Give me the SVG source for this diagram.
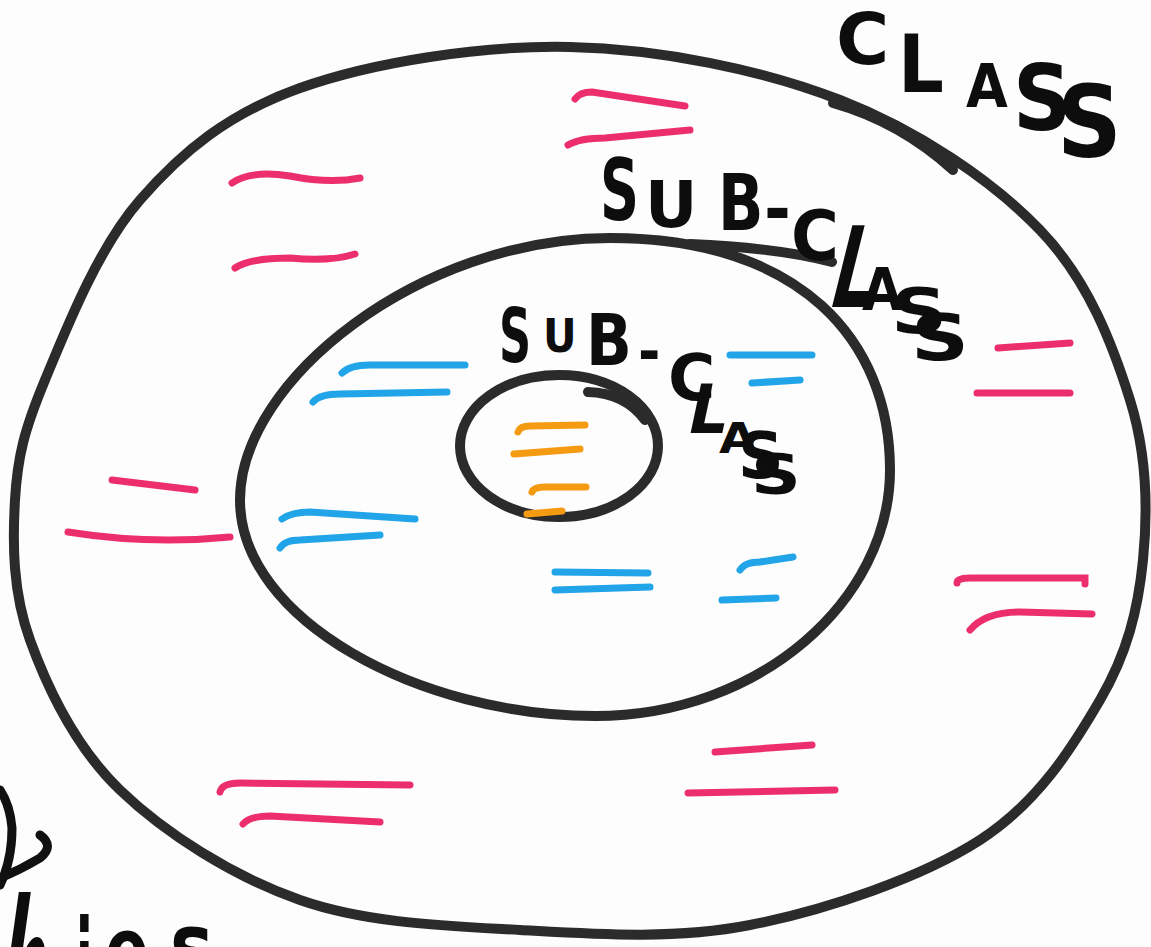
<svg xmlns="http://www.w3.org/2000/svg" width="1151" height="947" viewBox="0 0 1151 947">
<style>
.ring{fill:none;stroke:#2b2b2b;stroke-width:10;stroke-linecap:round;stroke-linejoin:round}
.ink{fill:none;stroke:#111;stroke-width:9;stroke-linecap:round;stroke-linejoin:round}
.pk{fill:none;stroke:#ec2f6c;stroke-width:7;stroke-linecap:round}
.bl{fill:none;stroke:#22a4e8;stroke-width:7;stroke-linecap:round}
.or{fill:none;stroke:#f59b12;stroke-width:7;stroke-linecap:round}
.hw{font-family:"DejaVu Sans Condensed","DejaVu Sans",sans-serif;font-weight:bold;fill:#0d0d0d}
</style>
<rect width="1151" height="947" fill="#fdfdfd"/>

<g id="class">
  <path class="ring" d="M570 47 C660 49 761.7 69.5 840 100 C918.3 130.5 991.7 180 1040 230 C1088.3 280 1112.8 345 1130 400 C1147.2 455 1148 510 1143 560 C1138 610 1127.2 653.3 1100 700 C1072.8 746.7 1038.3 802.5 980 840 C921.7 877.5 826.7 910 750 925 C673.3 940 595 934.2 520 930 C445 925.8 366.7 923.3 300 900 C233.3 876.7 165 833.3 120 790 C75 746.7 47.5 688.3 30 640 C12.5 591.7 12.5 543.3 15 500 C17.5 456.7 24.2 430 45 380 C65.8 330 97.5 248.7 140 200 C182.5 151.3 228.3 113.5 300 88 C371.7 62.5 480 45 570 47 Z"/>
  <path class="ring" d="M833 103 Q900 122 953 170"/>
  <g id="class-label" class="hw">
    <text transform="translate(836,64) scale(1.12,1)" font-size="72">C</text>
    <text transform="translate(898,92)" font-size="80">L</text>
    <text transform="translate(966,107)" font-size="60">A</text>
    <text transform="translate(1013,130)" font-size="90">S</text>
    <text transform="translate(1057,157)" font-size="100">S</text>
  </g>
  <g id="class-items">
    <path class="pk" d="M575 99 Q580 92 592 92 L685 106"/>
    <path class="pk" d="M568 145 Q580 138 605 138 L690 130"/>
    <path class="pk" d="M232 183 Q250 170 290 176 Q330 184 360 178"/>
    <path class="pk" d="M235 268 Q250 258 290 258 Q330 262 355 254"/>
    <path class="pk" d="M112 480 L195 490"/>
    <path class="pk" d="M68 532 Q150 545 230 537"/>
    <path class="pk" d="M998 348 L1070 343"/>
    <path class="pk" d="M977 393 L1070 393"/>
    <path class="pk" d="M957 583 Q957 578 970 578 L1085 578 L1085 584"/>
    <path class="pk" d="M970 630 Q985 612 1020 612 L1092 614"/>
    <path class="pk" d="M220 792 Q222 783 240 783 L410 785"/>
    <path class="pk" d="M243 824 Q250 816 270 816 L380 822"/>
    <path class="pk" d="M715 752 L812 745"/>
    <path class="pk" d="M688 793 L835 790"/>
  </g>
</g>

<g id="subclass">
  <path class="ring" d="M610 238 C800 238 890 340 890 470 C890 600 760 716 595 716 C420 716 240 620 240 500 C240 380 420 238 610 238 Z"/>
  <path class="ring" d="M690 244 Q780 248 832 262"/>
  <g id="subclass-label" class="hw">
    <text transform="translate(600,220) scale(0.7,1)" font-size="86">S</text>
    <text transform="translate(645,227) scale(1.12,1)" font-size="64">U</text>
    <text transform="translate(718,230) scale(0.85,1)" font-size="78">B</text>
    <text transform="translate(764,233)" font-size="72">-</text>
    <text transform="translate(791,260) scale(1.05,1)" font-size="69">C</text>
    <text transform="translate(826,307) skewX(-14) scale(0.65,1)" font-size="112">L</text>
    <text transform="translate(862,310)" font-size="58">A</text>
    <text transform="translate(891,333) scale(1.4,1)" font-size="62">S</text>
    <text transform="translate(911,360) scale(1.4,1)" font-size="64">S</text>
  </g>
  <g id="subclass-items">
    <path class="bl" d="M342 373 Q350 365 370 365 L465 365"/>
    <path class="bl" d="M313 402 Q320 394 340 394 L447 392"/>
    <path class="bl" d="M730 355 L812 355"/>
    <path class="bl" d="M752 383 L800 380"/>
    <path class="bl" d="M282 519 Q292 512 310 512 L415 519"/>
    <path class="bl" d="M280 548 Q285 540 300 540 L380 535"/>
    <path class="bl" d="M555 572 L648 573"/>
    <path class="bl" d="M555 590 L650 587"/>
    <path class="bl" d="M740 570 Q745 562 760 562 L793 557"/>
    <path class="bl" d="M722 600 L776 598"/>
  </g>
</g>

<g id="subsubclass">
  <ellipse class="ring" cx="559" cy="446" rx="99" ry="71"/>
  <path class="ring" d="M588 392 Q625 393 645 420"/>
  <g id="subsubclass-label" class="hw">
    <text transform="translate(499,362) scale(0.67,1)" font-size="74">S</text>
    <text transform="translate(543,352)" font-size="46">U</text>
    <text transform="translate(586,365) scale(0.93,1)" font-size="72">B</text>
    <text transform="translate(638,372)" font-size="60">-</text>
    <text transform="translate(668,400) scale(1.12,1)" font-size="64">C</text>
    <text transform="translate(685,433) skewX(-12)" font-size="68">L</text>
    <text transform="translate(719,453) scale(1.3,1)" font-size="42">A</text>
    <text transform="translate(738,478) scale(1.1,1)" font-size="64">S</text>
    <text transform="translate(751,493) scale(1.4,1)" font-size="55">S</text>
  </g>
  <g id="subsubclass-items">
    <path class="or" d="M518 432 Q520 426 530 426 L585 425"/>
    <path class="or" d="M514 454 L580 449"/>
    <path class="or" d="M532 492 Q534 487 545 487 L586 487"/>
    <path class="or" d="M527 514 L562 511"/>
  </g>
</g>

<g id="corner-note">
  <path class="ink" d="M0 790 Q10 805 12 828 Q12 860 0 885"/>
  <path class="ink" d="M40 835 Q55 846 40 858 Q20 870 0 878"/>
  <g class="hw">
    <text transform="translate(-11,1063) skewX(-8) scale(0.85,2.5)" font-size="90">h</text>
    <text transform="translate(76,1010) scale(0.6,1.4)" font-size="90">i</text>
    <text transform="translate(105,982) scale(0.8,1)" font-size="90">e</text>
    <text transform="translate(170,978) scale(0.9,1)" font-size="90">s</text>
  </g>
</g>
</svg>
